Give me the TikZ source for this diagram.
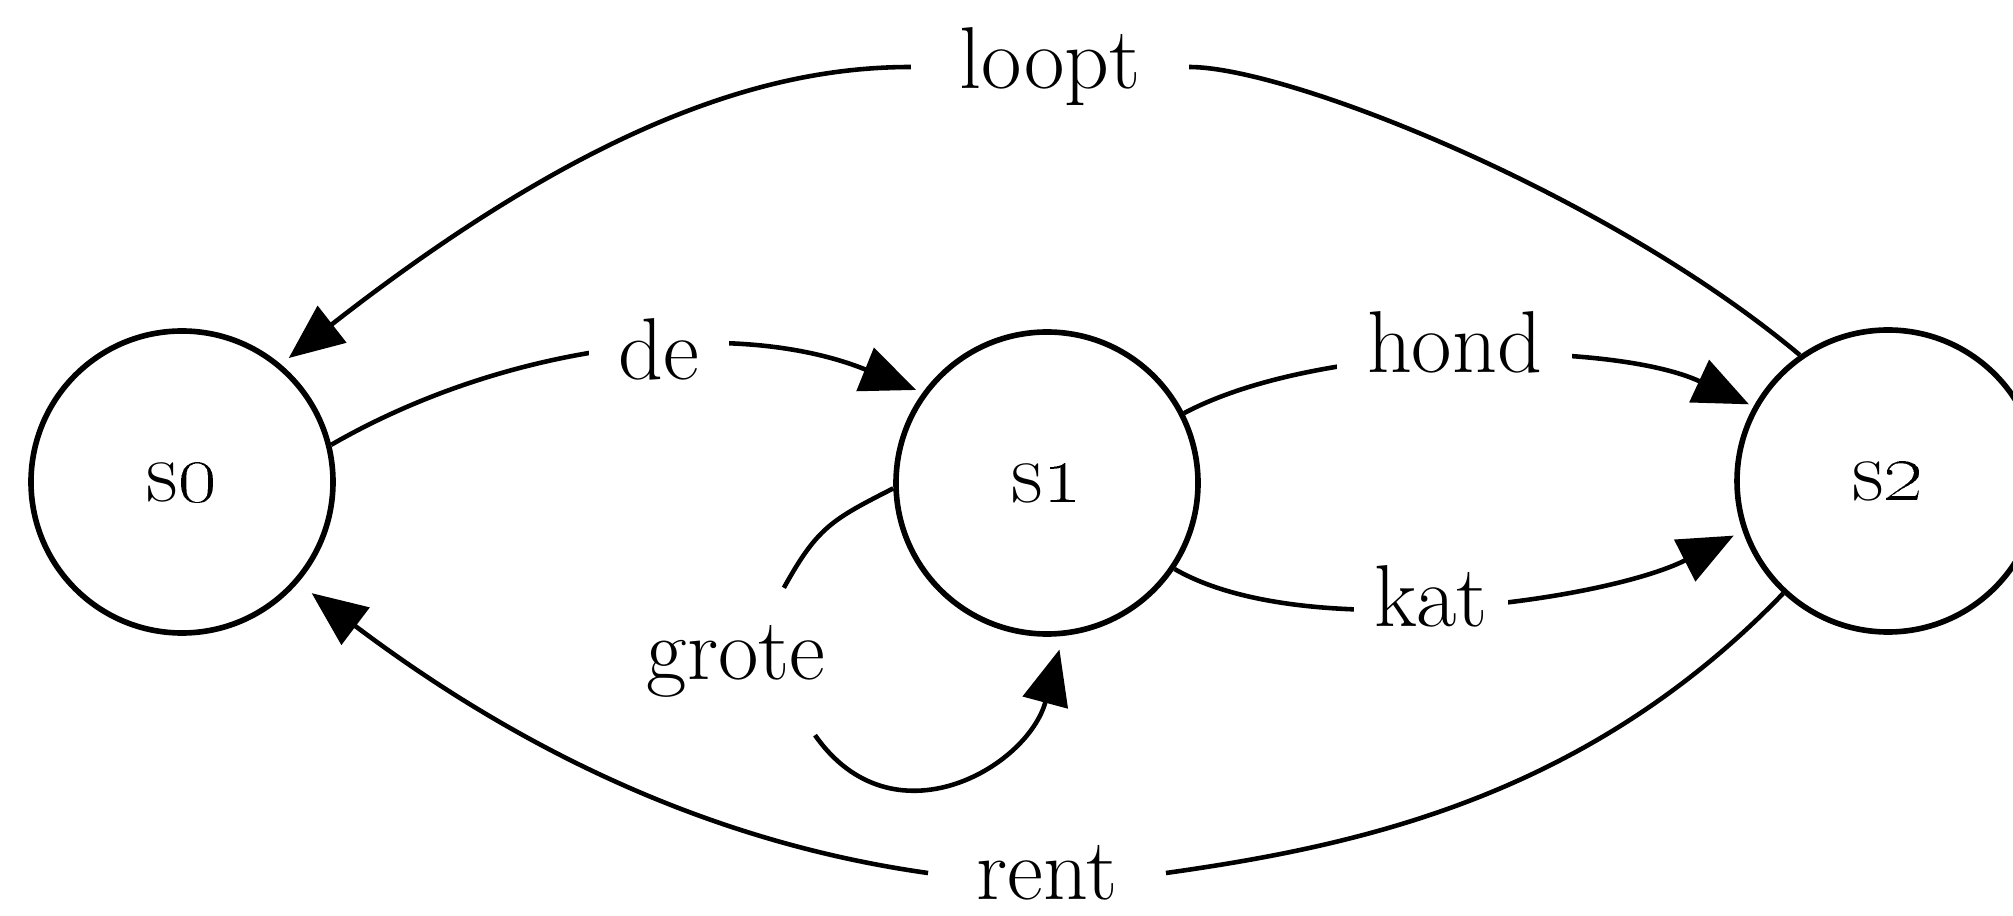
\documentclass[tikz,border=0pt]{standalone}
\usetikzlibrary{arrows.meta}
\begin{document}
\begin{tikzpicture}[
  font=\fontsize{25}{30}\selectfont,
  state/.style={circle, draw, line width=1.6pt, minimum size=3.02cm, inner sep=0pt},
  edge/.style={line width=1.3pt, -{Triangle[length=5.5mm,width=4.6mm]}},
  lab/.style={fill=white, inner ysep=0.1cm, inner xsep=#1},
  lab/.default=0.3cm,
  gap/.style={inner ysep=0.1cm, inner xsep=#1}
]
\useasboundingbox (0,0) rectangle (20.13,9.15);
\node[state] (s0) at (1.82,4.33) {s\oldstylenums{0}};
\node[state] (s1) at (10.47,4.32) {s\oldstylenums{1}};
\node[state] (s2) at (18.88,4.34) {s\oldstylenums{2}};

% labels that split their connector
\node[gap=0.48cm] (lloopt) at (10.50,8.48) {loopt};
\node[gap=0.48cm] (lrent) at (10.47,0.42) {rent};
\node[inner xsep=0.05cm, inner ysep=0.37cm] (lgrote) at (7.36,2.535) {grote};

% loopt: s2 -> s0
\draw[edge, shorten >=0.1cm]
  (s2.125) to[out=140,in=0,out distance=2.5cm,in distance=1cm] (lloopt.east)
  (lloopt.west) to[out=180,in=38,out distance=1.3cm,in distance=4.1cm] (s0.50);
% rent: s2 -> s0
\draw[edge, shorten >=0.17cm]
  (s2.227) to[out=226,in=8,out distance=2.8cm,in distance=2cm] (lrent.east)
  (lrent.west) to[out=172,in=-37,out distance=2cm,in distance=3cm] (s0.-41);
% grote: s1 -> s1
\draw[edge, shorten >=0.14cm]
  (s1.182) to[out=207,in=61,looseness=1.2] (lgrote.57)
  (lgrote.-43) to[out=-55,in=255,looseness=1.3] (s1.276);

\draw[edge, shorten >=0.07cm] (s0.14) to[out=30,in=158,looseness=0.88]
  node[lab=0.3cm, pos=0.56] (lde) {de} (s1.144);
\draw[edge, shorten >=0.05cm] (s1.27) to[out=28,in=155,looseness=0.7]
  node[lab=0.3cm, pos=0.48, yshift=0.15cm] (lhond) {hond} (s2.151);
\draw[edge, shorten >=0.1cm] (s1.-34) to[out=-30,in=207,looseness=0.68]
  node[lab=0.2cm, pos=0.46, yshift=0.1cm] (lkat) {kat} (s2.199);
\end{tikzpicture}
\end{document}
